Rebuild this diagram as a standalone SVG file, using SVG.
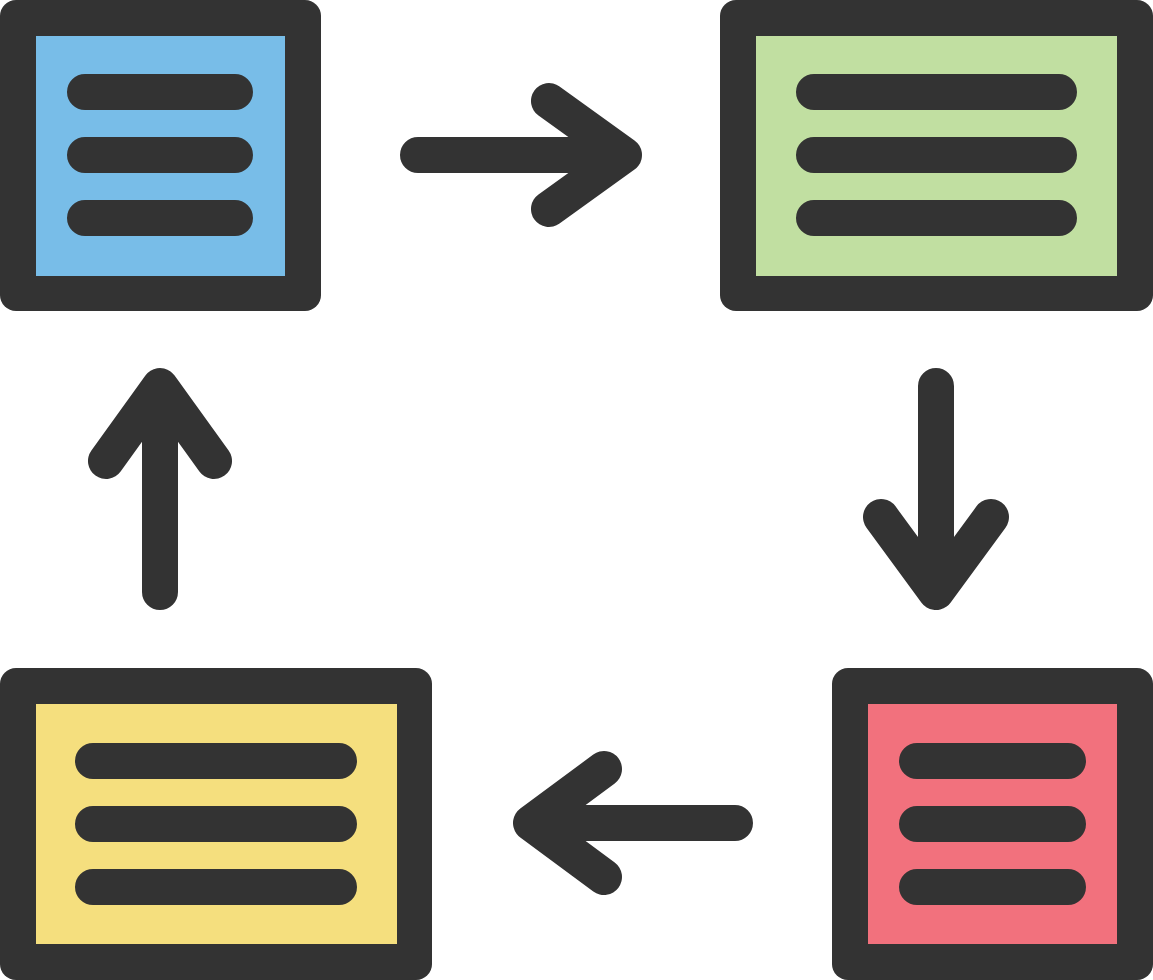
<svg xmlns="http://www.w3.org/2000/svg" width="1153" height="980" viewBox="0 0 1153 980">
<style>
.frame{fill:#333333}
.ln{stroke:#333333;stroke-width:36;stroke-linecap:round;stroke-linejoin:round;fill:none}
</style>
<rect width="1153" height="980" fill="#ffffff"/>
<g id="node-blue">
<rect class="frame" x="0" y="0" width="321" height="311" rx="16"/>
<rect x="36" y="36" width="249" height="240" fill="#78BDE8"/>
<path class="ln" d="M85 92H235M85 155H235M85 218H235"/>
</g>
<g id="node-green">
<rect class="frame" x="720" y="0" width="433" height="311" rx="16"/>
<rect x="756" y="36" width="361" height="240" fill="#C1DFA1"/>
<path class="ln" d="M814 92H1059M814 155H1059M814 218H1059"/>
</g>
<g id="node-red">
<rect class="frame" x="832" y="668" width="321" height="312" rx="16"/>
<rect x="868" y="704" width="249" height="240" fill="#F2717D"/>
<path class="ln" d="M917 761H1068M917 824H1068M917 887H1068"/>
</g>
<g id="node-yellow">
<rect class="frame" x="0" y="668" width="432" height="312" rx="16"/>
<rect x="36" y="704" width="361" height="240" fill="#F5DF7E"/>
<path class="ln" d="M93 761H339M93 824H339M93 887H339"/>
</g>
<g id="connectors">
<path class="ln" d="M418 155H622M549 101L624 155L549 209"/>
<path class="ln" d="M936 386V590M881 517L936 592L991 517"/>
<path class="ln" d="M735 823H533M604 769L531 823L604 877"/>
<path class="ln" d="M160 592V388M106 461L160 386L214 461"/>
</g>
</svg>
